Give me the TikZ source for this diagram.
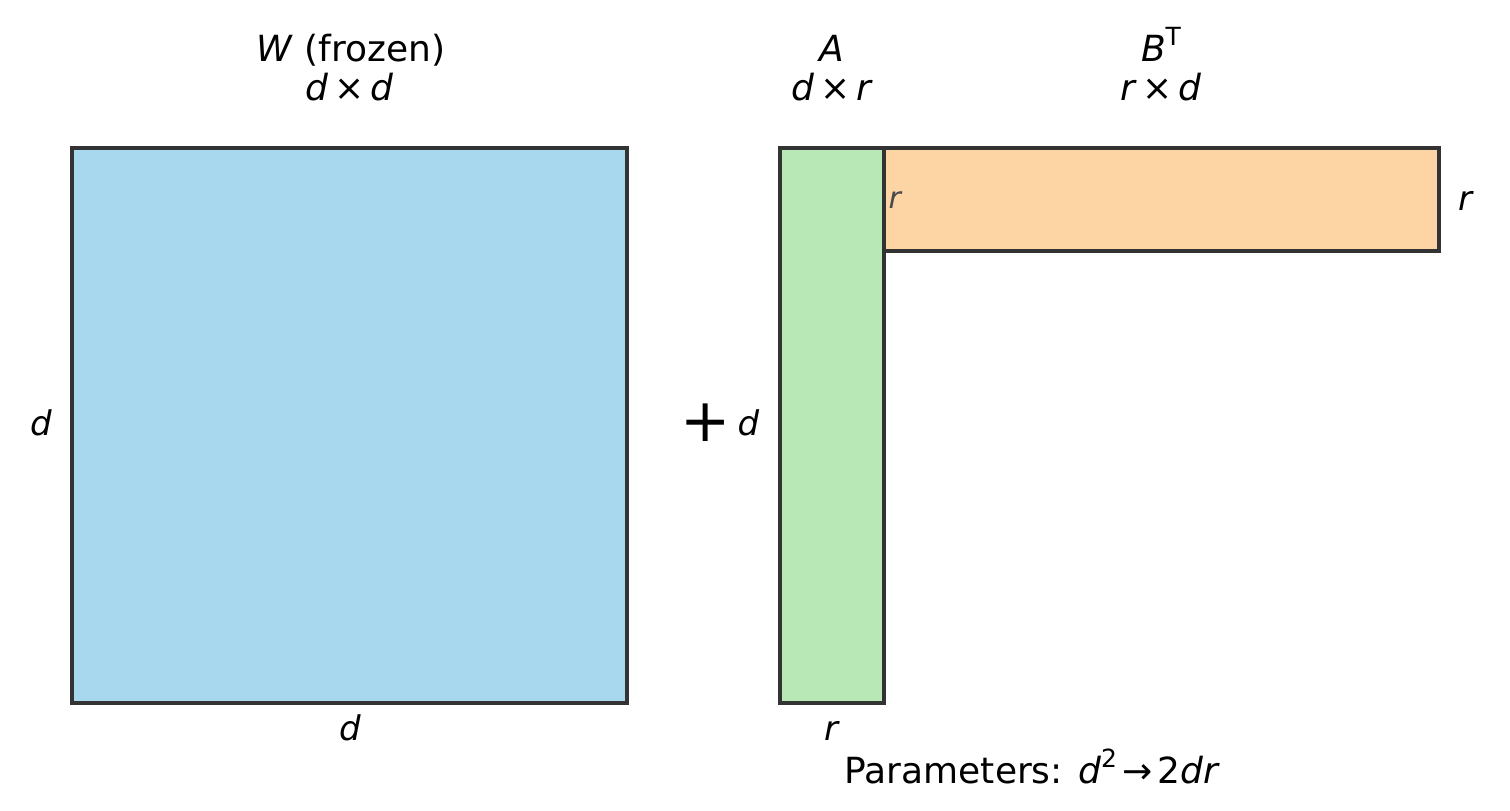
\documentclass[tikz,border=0pt]{standalone}
\usepackage{fontspec}
\setmainfont{DejaVu Sans}
\usetikzlibrary{positioning}
\definecolor{edgegray}{HTML}{333333}
\definecolor{wblue}{HTML}{A8D8EE}
\definecolor{agreen}{HTML}{B9E8B7}
\definecolor{borange}{HTML}{FDD4A4}
\definecolor{rgray}{HTML}{4A4A4A}
\tikzset{
    every node/.style = {
        inner sep = 0pt,
        outer sep = 0pt
    },
    matbox/.style = {
        draw = edgegray,
        line width = 3.2pt
    },
    title/.style = {
        anchor = base,
        font = \fontsize{36}{40}\selectfont
    },
    dimlab/.style = {
        anchor = base,
        font = \fontsize{34}{36}\selectfont
    },
    innerlab/.style = {
        anchor = base,
        text = rgray,
        font = \fontsize{30}{32}\selectfont
    }
}
\newcommand{\by}{\hspace{0.16em}×\hspace{0.16em}}
\newcommand{\upidx}[1]{\raisebox{0.42em}{\fontsize{25}{25}\selectfont #1}}

\begin{document}
\begin{tikzpicture}[
        x = 1pt,
        y = -1pt,
    ]{
        \useasboundingbox (0,0) rectangle (1510,811);
        \node at (349.5,425.5) [
            matbox,
            fill = wblue,
            minimum width = 555pt,
            minimum height = 555pt
        ] (W) {};
        \node at (1161.5,199.5) [
            matbox,
            fill = borange,
            minimum width = 555pt,
            minimum height = 103pt
        ] (B) {};
        \node at (832,425.5) [
            matbox,
            fill = agreen,
            minimum width = 104pt,
            minimum height = 555pt
        ] (A) {};
        \node at (351,61) [title] (Wname) {\textit{W} (frozen)};
        \node at (349.5,100) [title] (Wsize) {\textit{d}\by\textit{d}};
        \node at (832,61) [title] (Aname) {\textit{A}};
        \node at (832,100) [title] (Asize) {\textit{d}\by\textit{r}};
        \node at (1161,61) [title] (Bname) {\textit{B}\upidx{T}};
        \node at (1161,100) [title] (Bsize) {\textit{r}\by\textit{d}};
        \node at (41,435) [dimlab] (Wleft) {\textit{d}};
        \node at (350,740.5) [dimlab] (Wbottom) {\textit{d}};
        \node at (706,423) [font=\fontsize{60}{60}\selectfont] (plus) {+};
        \node at (748.5,435) [dimlab] (Aleft) {\textit{d}};
        \node at (832,740.5) [dimlab] (Abottom) {\textit{r}};
        \node at (895.5,208) [innerlab] (Bleft) {\textit{r}};
        \node at (1466,210) [dimlab] (Bright) {\textit{r}};
        \node at (1032.5,783) [title] (params)
            {Parameters: \textit{d}\upidx{2}\hspace{0.15em}→\hspace{0.15em}2\textit{dr}};
    }
\end{tikzpicture}
\end{document}
